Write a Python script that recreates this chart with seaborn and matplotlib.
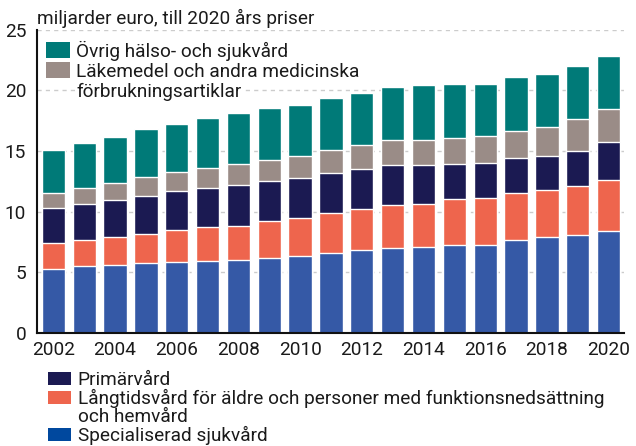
import matplotlib
matplotlib.use("Agg")
import matplotlib.pyplot as plt
import pandas as pd
import seaborn as sns
from matplotlib.patches import Patch

# Data (miljarder euro, 2020 års priser)
years = list(range(2002, 2021))
specialiserad = [5.30, 5.50, 5.58, 5.80, 5.88, 5.91, 6.02, 6.16, 6.32, 6.62,
                 6.82, 7.03, 7.06, 7.23, 7.25, 7.64, 7.89, 8.08, 8.43]
langtidsvard = [2.09, 2.14, 2.31, 2.33, 2.59, 2.83, 2.80, 3.07, 3.19, 3.25,
                3.38, 3.52, 3.55, 3.84, 3.90, 3.90, 3.90, 4.06, 4.21]
primarvard = [2.91, 2.97, 3.07, 3.19, 3.26, 3.21, 3.38, 3.30, 3.27, 3.32,
              3.35, 3.30, 3.27, 2.89, 2.87, 2.89, 2.78, 2.89, 3.08]
lakemedel = [1.22, 1.32, 1.43, 1.57, 1.54, 1.65, 1.73, 1.76, 1.81, 1.87,
             1.95, 2.06, 2.06, 2.12, 2.22, 2.25, 2.41, 2.64, 2.77]
ovrig = [3.57, 3.73, 3.79, 3.96, 3.99, 4.12, 4.18, 4.23, 4.23, 4.31,
         4.31, 4.40, 4.51, 4.42, 4.31, 4.42, 4.37, 4.34, 4.32]

labels = ["Specialiserad sjukvård",
          "Långtidsvård för äldre och personer med funktionsnedsättning och hemvård",
          "Primärvård",
          "Läkemedel och andra medicinska förbrukningsartiklar",
          "Övrig hälso- och sjukvård"]
colors = ["#3559a6", "#ee654d", "#1b1a52", "#9a8c87", "#007a78"]
legend_blue = "#00489e"

df = pd.DataFrame({"år": years, labels[0]: specialiserad, labels[1]: langtidsvard,
                   labels[2]: primarvard, labels[3]: lakemedel, labels[4]: ovrig})
# kumulativa summor för staplingen
cum = df[labels].cumsum(axis=1)
cum["år"] = df["år"]

FS = 13.7

sns.set_style("white")
plt.rcParams["font.family"] = ["Roboto", "DejaVu Sans"]
plt.rcParams["text.color"] = "#1a1a1a"

fig = plt.figure(figsize=(6.36, 4.46), dpi=100)
ax = fig.add_axes([37.3 / 636, 113 / 446, 586.7 / 636, 303.25 / 446])

# rita högsta stapeln först, sedan de lägre ovanpå
for lab, col in reversed(list(zip(labels, colors))):
    sns.barplot(data=cum, x="år", y=lab, color=col, saturation=1, width=0.755,
                edgecolor="white", linewidth=1, ax=ax, zorder=2)

ax.set_ylim(0, 25)
ax.set_xlim(-0.52, 18.5)
ax.set_yticks(range(0, 26, 5))
ax.set_xticks(range(0, 19, 2))
ax.set_xticklabels(years[::2])
ax.set_xlabel("")
ax.set_ylabel("")
ax.yaxis.grid(True, linestyle=(0, (3, 3)), color="#cccccc", linewidth=1)
ax.set_axisbelow(True)
ax.tick_params(axis="both", length=0, labelsize=FS, labelcolor="#1a1a1a")
ax.tick_params(axis="y", pad=8)
ax.tick_params(axis="x", pad=6)
for s in ["top", "right"]:
    ax.spines[s].set_visible(False)
for s in ["left", "bottom"]:
    ax.spines[s].set_color("#111111")
    ax.spines[s].set_linewidth(1.5)

fig.text(37 / 636, 1 - 24 / 446, "miljarder euro, till 2020 års priser",
         fontsize=FS, ha="left", va="baseline")

none = Patch(facecolor="none", edgecolor="none")
top_handles = [Patch(facecolor=colors[4], edgecolor="none"),
               Patch(facecolor=colors[3], edgecolor="none"), none]
top_labels = ["Övrig hälso- och sjukvård", "Läkemedel och andra medicinska",
              "förbrukningsartiklar"]
leg1 = ax.legend(top_handles, top_labels, loc="upper left",
                 bbox_to_anchor=(46 / 636, 1 - 40.5 / 446), bbox_transform=fig.transFigure,
                 frameon=False, fontsize=FS, handlelength=1.26, handleheight=0.84,
                 handletextpad=0.32, labelspacing=0.1, borderpad=0, borderaxespad=0)
for t in leg1.get_texts():
    t.set_bbox(dict(facecolor="white", edgecolor="none", pad=1))
ax.add_artist(leg1)

bot_handles = [Patch(facecolor=colors[2], edgecolor="none"),
               Patch(facecolor=colors[1], edgecolor="none"), none,
               Patch(facecolor=legend_blue, edgecolor="none")]
bot_labels = ["Primärvård",
              "Långtidsvård för äldre och personer med funktionsnedsättning",
              "och hemvård", "Specialiserad sjukvård"]
fig.legend(bot_handles, bot_labels, loc="upper left",
           bbox_to_anchor=(47.5 / 636, 1 - 371 / 446),
           frameon=False, fontsize=FS, handlelength=1.26, handleheight=0.7,
           handletextpad=0.32, labelspacing=0.0, borderpad=0, borderaxespad=0)

fig.savefig("out.png", dpi=100)
